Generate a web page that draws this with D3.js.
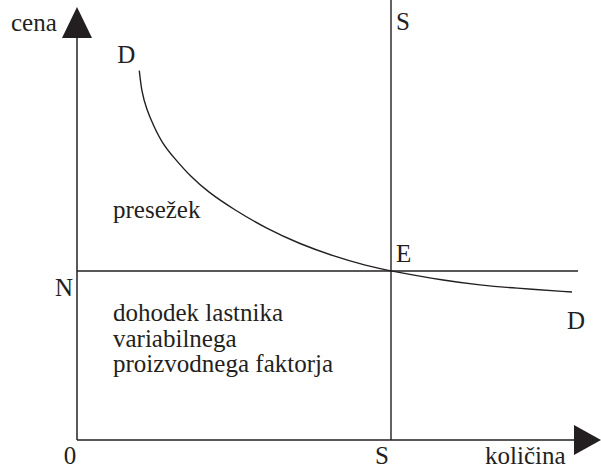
<!DOCTYPE html>
<html>
<head>
<meta charset="utf-8">
<script src="https://cdn.jsdelivr.net/npm/d3@7"></script>
<style>
  body { margin: 0; background: #fff; }
</style>
</head>
<body>
<svg id="chart" width="601" height="468"></svg>
<script>
// demand curve D (quantity, price in 0..100 units)
const demandQ = [12.46, 12.94, 13.9, 15.3, 17, 19.6, 22.6, 26.2, 31.2, 38, 44.6, 51.2, 58, 62.8, 74, 80.6, 87.2, 99];
const demandP = [92.33, 86.93, 82.75, 78.58, 74.25, 70.25, 66, 62, 57.75, 52.75, 49, 46, 43.5, 42.25, 39.75, 38.75, 38, 37];

// fixed supply S and price level N (equilibrium E)
const supplyQ = 62.8;
const priceN = 42.25;

const areaLabels = ["presežek"];
const incomeLines = ["dohodek lastnika", "variabilnega", "proizvodnega faktorja"];

var svg = d3.select("#chart");
var ink = "#231f20";
var serif = "'Liberation Serif', 'DejaVu Serif', 'Times New Roman', serif";

var x = d3.scaleLinear().domain([0, 100]).range([77, 577]);
var y = d3.scaleLinear().domain([0, 100]).range([440, 40]);

var x0 = x(0), y0 = y(0);

// axes with arrow heads
svg.append("line")
  .attr("x1", x0).attr("y1", y0).attr("x2", x0).attr("y2", 36)
  .attr("stroke", ink).attr("stroke-width", 1.5);
svg.append("path")
  .attr("d", "M" + (x0 - 15) + ",38L" + (x0 + 15) + ",38L" + x0 + ",7Z")
  .attr("fill", ink);

svg.append("line")
  .attr("x1", x0).attr("y1", y0).attr("x2", 576).attr("y2", y0)
  .attr("stroke", ink).attr("stroke-width", 1.5);
svg.append("path")
  .attr("d", "M574," + (y0 - 15) + "L574," + (y0 + 15) + "L601," + y0 + "Z")
  .attr("fill", ink);

// S line (vertical) and N line (horizontal)
svg.append("line")
  .attr("x1", x(supplyQ)).attr("x2", x(supplyQ))
  .attr("y1", y0).attr("y2", 0)
  .attr("stroke", ink).attr("stroke-width", 1.4);

svg.append("line")
  .attr("x1", x0).attr("x2", x(100.2))
  .attr("y1", y(priceN)).attr("y2", y(priceN))
  .attr("stroke", ink).attr("stroke-width", 1.5);

// demand curve
var pts = demandQ.map(function(q, i) { return [q, demandP[i]]; });
var line = d3.line()
  .x(function(d) { return x(d[0]); })
  .y(function(d) { return y(d[1]); })
  .curve(d3.curveBasis);

svg.append("path")
  .attr("d", line(pts))
  .attr("fill", "none")
  .attr("stroke", ink)
  .attr("stroke-width", 1.4);

// labels
function label(txt, px, py, anchor) {
  svg.append("text")
    .attr("x", px).attr("y", py)
    .attr("text-anchor", anchor || "start")
    .attr("font-family", serif)
    .attr("font-size", 25)
    .attr("fill", ink)
    .text(txt);
}

label("cena", 11, 31);
label("D", x(demandQ[0]) - 22, 63);
label("S", x(supplyQ) + 5, 30);
label("E", x(supplyQ) + 5, y(priceN) - 9);
label("N", 55, y(priceN) + 25);
label("D", 567, 329);
label("0", 70, 464, "middle");
label("S", x(supplyQ) - 9, 464, "middle");
label("količina", 485, 464);

label(areaLabels[0], 113, 218);
incomeLines.forEach(function(t, i) {
  label(t, 113, 321 + i * 25.5);
});
</script>
</body>
</html>
